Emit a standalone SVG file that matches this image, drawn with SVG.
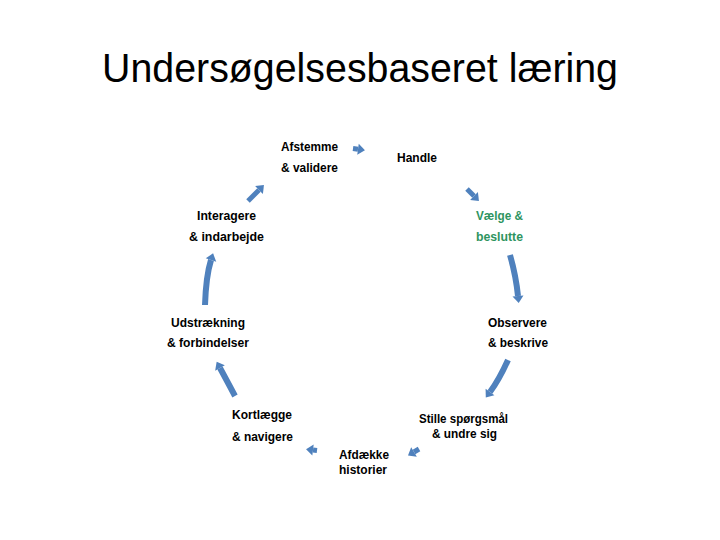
<svg xmlns="http://www.w3.org/2000/svg" width="720" height="540" viewBox="0 0 720 540">
<style>
.t{font-family:"Liberation Sans",Arial,sans-serif;font-size:13px;font-weight:bold;fill:#000}
.g{fill:#2e9460}
.title{font-family:"Liberation Sans",Arial,sans-serif;font-size:41px;fill:#000}
.a{fill:none;stroke:#4f81bd;stroke-width:6;stroke-linecap:butt}
.s{fill:none;stroke:#4f81bd;stroke-width:5;stroke-linecap:butt}
</style>
<defs>
<marker id="h" markerUnits="userSpaceOnUse" markerWidth="14" markerHeight="14" refX="0" refY="0" viewBox="-1 -7 10 14" orient="auto" overflow="visible">
<path d="M0,-5.5 L7,0 L0,5.5 z" fill="#4f81bd"/>
</marker>
</defs>
<rect width="720" height="540" fill="#fff"/>
<text class="title" x="360" y="82" text-anchor="middle" textLength="516" lengthAdjust="spacingAndGlyphs">Undersøgelsesbaseret læring</text>
<g id="connectors">
<path class="a" d="M205,305 Q206,276 211,260" marker-end="url(#h)"/>
<path class="a" d="M510,255 Q516,276 518,296" marker-end="url(#h)"/>
<path class="a" d="M235,396 Q226,379 220,368" marker-end="url(#h)"/>
<path class="a" d="M508,360 Q499,380 490,392" marker-end="url(#h)"/>
<path class="s" d="M353,148.5 L358,149.2" marker-end="url(#h)"/>
<path class="s" d="M467,189 L474,196" marker-end="url(#h)"/>
<path class="s" d="M248,201 L259,190" marker-end="url(#h)"/>
<path class="s" d="M317,450.5 L313,450" marker-end="url(#h)"/>
<path class="s" d="M419,449 L414,452" marker-end="url(#h)"/>
</g>
<g id="afstemme"><text class="t" x="281" y="151" textLength="57" lengthAdjust="spacingAndGlyphs">Afstemme</text><text class="t" x="281" y="172" textLength="57" lengthAdjust="spacingAndGlyphs">&amp; validere</text></g>
<g id="handle"><text class="t" x="397" y="162" textLength="40" lengthAdjust="spacingAndGlyphs">Handle</text></g>
<g id="interagere"><text class="t" x="197" y="220" textLength="59" lengthAdjust="spacingAndGlyphs">Interagere</text><text class="t" x="189" y="241" textLength="75" lengthAdjust="spacingAndGlyphs">&amp; indarbejde</text></g>
<g id="vaelge"><text class="t g" x="476" y="220" textLength="47" lengthAdjust="spacingAndGlyphs">Vælge &amp;</text><text class="t g" x="476" y="241" textLength="47" lengthAdjust="spacingAndGlyphs">beslutte</text></g>
<g id="udstraekning"><text class="t" x="171" y="327" textLength="74" lengthAdjust="spacingAndGlyphs">Udstrækning</text><text class="t" x="167" y="347" textLength="82" lengthAdjust="spacingAndGlyphs">&amp; forbindelser</text></g>
<g id="observere"><text class="t" x="488" y="327" textLength="59" lengthAdjust="spacingAndGlyphs">Observere</text><text class="t" x="488" y="347" textLength="60" lengthAdjust="spacingAndGlyphs">&amp; beskrive</text></g>
<g id="kortlaegge"><text class="t" x="232" y="419" textLength="60" lengthAdjust="spacingAndGlyphs">Kortlægge</text><text class="t" x="232" y="441" textLength="61" lengthAdjust="spacingAndGlyphs">&amp; navigere</text></g>
<g id="stille"><text class="t" x="419" y="423" textLength="89" lengthAdjust="spacingAndGlyphs">Stille spørgsmål</text><text class="t" x="432" y="438" textLength="65" lengthAdjust="spacingAndGlyphs">&amp; undre sig</text></g>
<g id="afdaekke"><text class="t" x="339" y="459" textLength="50" lengthAdjust="spacingAndGlyphs">Afdække</text><text class="t" x="339" y="474" textLength="48" lengthAdjust="spacingAndGlyphs">historier</text></g>
</svg>
